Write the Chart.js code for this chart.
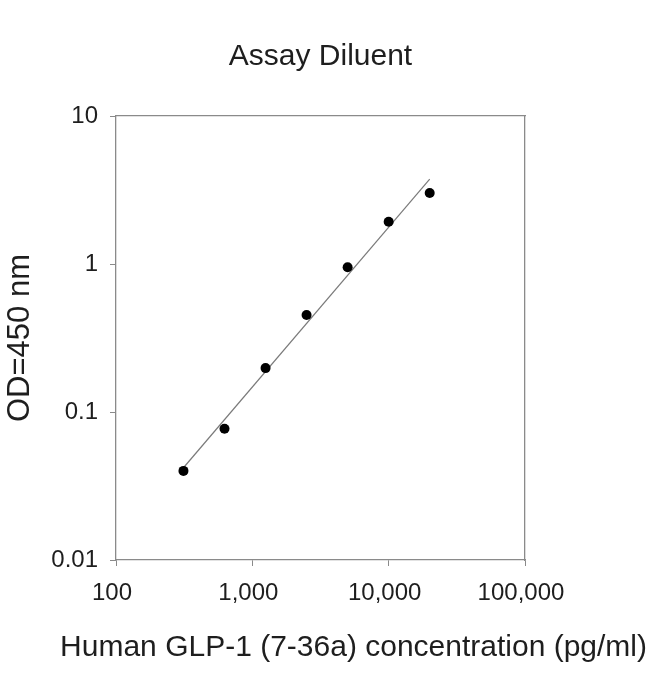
<!DOCTYPE html>
<html>
<head>
<meta charset="utf-8">
<title>Assay Diluent</title>
<script src="https://cdn.jsdelivr.net/npm/chart.js"></script>
<style>
    body { margin: 0; background: #ffffff; }
    #box { width: 650px; height: 674px; }
</style>
</head>
<body>
<div id="box"><canvas id="myChart"></canvas></div>
<script>
'use strict';

// standard curve points
let concentration = [312.5, 625, 1250, 2500, 5000, 10000, 20000];
let odValues = [0.040, 0.077, 0.198, 0.452, 0.95, 1.93, 3.02];

// the fitted line, its two ends
let fitX = [312.5, 20000];
let fitY = [0.042, 3.75];

// ticks
let xTickValues = [100, 1000, 10000, 100000];
let xTickLabels = ['100', '1,000', '10,000', '100,000'];
let yTickValues = [0.01, 0.1, 1, 10];
let yTickLabels = ['0.01', '0.1', '1', '10'];

let axisGray = '#8a8a8a';
let textColor = '#1e1e1e';

Chart.defaults.font.family = "'Liberation Sans', Arial, sans-serif";
Chart.defaults.color = textColor;

function toPoints(xs, ys) {
    let pts = [];
    for (let i = 0; i < xs.length; i++) {
        pts.push({ x: xs[i], y: ys[i] });
    }
    return pts;
}

function viewChart() {
    let ctx = document.getElementById('myChart').getContext('2d');
    let chart = new Chart(ctx, {
        type: 'scatter',
        data: {
            datasets: [{
                label: 'OD',
                data: toPoints(concentration, odValues),
                backgroundColor: '#000000',
                borderWidth: 0,
                pointRadius: 5,
                pointHoverRadius: 5
            },
            {
                label: 'fit',
                data: toPoints(fitX, fitY),
                showLine: true,
                borderColor: '#7a7a7a',
                borderWidth: 1.2,
                pointRadius: 0,
                pointHoverRadius: 0
            }]
        },
        options: {
            responsive: true,
            maintainAspectRatio: false,
            animation: false,
            layout: { padding: { left: 0, right: 3, top: 0, bottom: 0 } },
            plugins: {
                legend: { display: false },
                tooltip: { enabled: false },
                title: {
                    display: true,
                    text: 'Assay Diluent',
                    fullSize: false,
                    font: { size: 30, weight: 'normal' },
                    color: textColor,
                    padding: { top: 39, bottom: 8 }
                },
                subtitle: {
                    display: true,
                    position: 'bottom',
                    align: 'end',
                    text: 'Human GLP-1 (7-36a) concentration (pg/ml)',
                    font: { size: 30 },
                    color: textColor,
                    padding: { top: 9.5, bottom: 8.5 }
                }
            },
            scales: {
                x: {
                    type: 'logarithmic',
                    position: 'bottom',
                    min: 100,
                    max: 100000,
                    afterBuildTicks: function (s) {
                        s.ticks = xTickValues.map(v => ({ value: v }));
                    },
                    afterFit: function (s) { s.height = 60; },
                    ticks: {
                        autoSkip: false,
                        maxRotation: 0,
                        padding: 13,
                        labelOffset: -4,
                        font: { size: 24 },
                        color: textColor,
                        callback: function (v) {
                            return xTickLabels[xTickValues.indexOf(v)];
                        }
                    },
                    grid: { drawOnChartArea: false, drawTicks: true, tickLength: 6, color: axisGray },
                    border: { color: axisGray, width: 1.3 }
                },
                y: {
                    type: 'logarithmic',
                    position: 'left',
                    min: 0.01,
                    max: 10,
                    afterBuildTicks: function (s) {
                        s.ticks = yTickValues.map(v => ({ value: v }));
                    },
                    afterFit: function (s) { s.width = 116; },
                    ticks: {
                        autoSkip: false,
                        padding: 12,
                        font: { size: 24 },
                        color: textColor,
                        callback: function (v) {
                            return yTickLabels[yTickValues.indexOf(v)];
                        }
                    },
                    grid: { drawOnChartArea: false, drawTicks: true, tickLength: 6, color: axisGray },
                    border: { color: axisGray, width: 1.3 },
                    title: {
                        display: true,
                        text: 'OD=450 nm',
                        font: { size: 31 },
                        color: textColor,
                        padding: { top: 2, bottom: 0 }
                    }
                },
                // plain frame lines on the top and right
                x2: {
                    type: 'linear',
                    position: 'top',
                    min: 0,
                    max: 1,
                    afterFit: function (s) { s.height = 33; },
                    ticks: { display: false },
                    grid: { display: false },
                    border: { color: axisGray, width: 1.3 }
                },
                y2: {
                    type: 'linear',
                    position: 'right',
                    min: 0,
                    max: 1,
                    afterFit: function (s) { s.width = 122; },
                    ticks: { display: false },
                    grid: { display: false },
                    border: { color: axisGray, width: 1.3 }
                }
            }
        }
    });
    return chart;
}

viewChart();
</script>
</body>
</html>
